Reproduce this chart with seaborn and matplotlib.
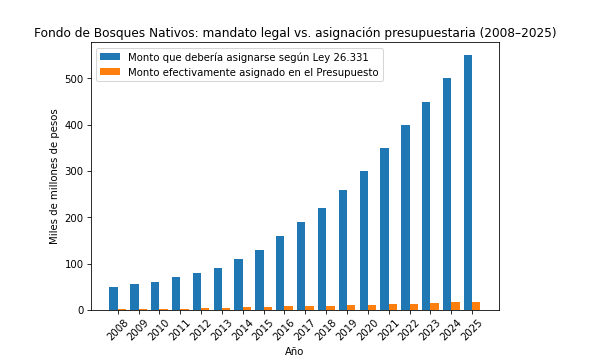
import pandas as pd
import seaborn as sns
import matplotlib.pyplot as plt

years = [str(y) for y in range(2008, 2026)]
monto_ley = [50, 55, 60, 70, 80, 90, 110, 130, 160, 190, 220, 260, 300, 350, 400, 450, 500, 550]
monto_asignado = [1.5, 1.5, 2, 2, 3.5, 3.5, 5.5, 5.5, 7.5, 8.5, 8.5, 10.5, 10.5, 13, 13, 14, 16, 18]
series_labels = ['Monto que debería asignarse según Ley 26.331',
                 'Monto efectivamente asignado en el Presupuesto']
colors = ['#1f77b4', '#ff7f0e']

DPI = 73


def create_chart():
    df = pd.DataFrame({
        'Año': years * 2,
        'valor': monto_ley + monto_asignado,
        'serie': [series_labels[0]] * len(years) + [series_labels[1]] * len(years),
    })

    fig, ax = plt.subplots(figsize=(593.4 / DPI, 360.4 / DPI), dpi=DPI)
    fig.subplots_adjust(left=0.153, right=0.841, top=0.881, bottom=0.139)

    sns.barplot(data=df, x='Año', y='valor', hue='serie', palette=colors,
                width=0.8, linewidth=0, saturation=1, ax=ax)

    # mismos márgenes que un bar() numérico de matplotlib
    n = len(years)
    ax.set_xlim(-0.4 - 0.89, n - 1 + 0.4 + 0.89)
    ax.set_title('Fondo de Bosques Nativos: mandato legal vs. asignación presupuestaria (2008–2025)')
    ax.set_xlabel('Año')
    ax.set_ylabel('Miles de millones de pesos')
    ax.tick_params(axis='x', rotation=45)
    handles, labels = ax.get_legend_handles_labels()
    ax.legend(handles, labels, loc='upper left', title=None)

    fig.savefig('out.png', dpi=DPI)
    plt.close('all')


if __name__ == "__main__":
    create_chart()
